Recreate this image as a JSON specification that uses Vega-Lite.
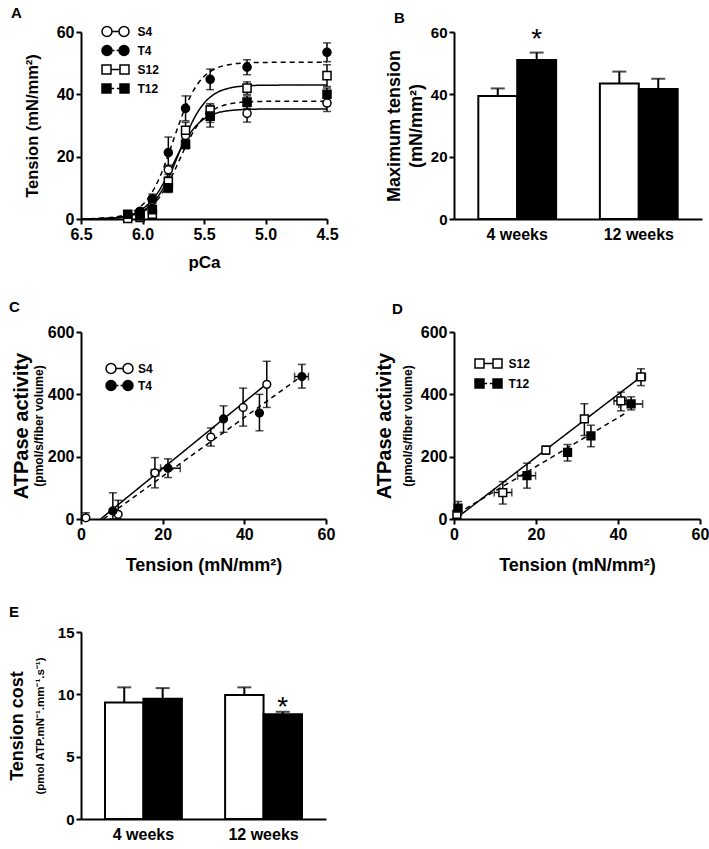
{
  "$schema": "https://vega.github.io/schema/vega-lite/v6.json",
  "padding": {"left": 8, "top": 6, "right": 0, "bottom": 0},
  "config": {
    "font": "Liberation Sans",
    "view": {"stroke": null},
    "axis": {"domainColor": "black", "domainWidth": 2, "tickColor": "black", "tickWidth": 2, "tickSize": 5, "labelFont": "Liberation Sans", "labelFontWeight": "bold", "labelFontSize": 16, "labelColor": "black", "titleFont": "Liberation Sans", "titleFontWeight": "bold", "titleFontSize": 18, "titleColor": "black", "grid": false, "labelPadding": 2, "labelFlush": false},
    "title": {"font": "Liberation Sans", "fontSize": 15, "fontWeight": "bold", "anchor": "start", "frame": "group", "color": "black"},
    "legend": {"labelFont": "Liberation Sans", "labelFontWeight": "bold", "labelFontSize": 12, "labelColor": "black", "padding": 0}
  },
  "resolve": {"scale": {"fill": "independent", "shape": "independent", "strokeDash": "independent", "x": "independent", "y": "independent", "xOffset": "independent"}, "legend": {"fill": "independent", "shape": "independent", "strokeDash": "independent"}},
  "bounds": "flush",
  "columns": 2,
  "spacing": {"row": 113, "column": 127},
  "concat": [
    {
      "width": 246, "height": 187,
      "title": {"text": "A", "dx": -70, "offset": 3},
      "resolve": {"axis": {"x": "independent", "y": "independent"}},
      "layer": [
        {
          "data": {"values": [
            {"g":"S4","p":6.5,"t":0.04},{"g":"S4","p":6.3,"t":0.22},{"g":"S4","p":6.2,"t":0.55},{"g":"S4","p":6.1,"t":1.35},{"g":"S4","p":6.0,"t":3.21},{"g":"S4","p":5.9,"t":7.09},{"g":"S4","p":5.85,"t":10.05},{"g":"S4","p":5.8,"t":13.66},{"g":"S4","p":5.75,"t":17.65},{"g":"S4","p":5.7,"t":21.64},{"g":"S4","p":5.65,"t":25.25},{"g":"S4","p":5.6,"t":28.2},{"g":"S4","p":5.55,"t":30.47},{"g":"S4","p":5.5,"t":32.09},{"g":"S4","p":5.4,"t":33.95},{"g":"S4","p":5.3,"t":34.75},{"g":"S4","p":5.2,"t":35.08},{"g":"S4","p":5.0,"t":35.28},{"g":"S4","p":4.5,"t":35.3},
            {"g":"T4","p":6.5,"t":0.05},{"g":"T4","p":6.3,"t":0.32},{"g":"T4","p":6.2,"t":0.78},{"g":"T4","p":6.1,"t":1.93},{"g":"T4","p":6.0,"t":4.57},{"g":"T4","p":5.9,"t":10.1},{"g":"T4","p":5.85,"t":14.3},{"g":"T4","p":5.8,"t":19.5},{"g":"T4","p":5.75,"t":25.15},{"g":"T4","p":5.7,"t":30.8},{"g":"T4","p":5.65,"t":36.0},{"g":"T4","p":5.6,"t":40.2},{"g":"T4","p":5.55,"t":43.4},{"g":"T4","p":5.5,"t":45.7},{"g":"T4","p":5.4,"t":48.4},{"g":"T4","p":5.3,"t":49.5},{"g":"T4","p":5.2,"t":50.0},{"g":"T4","p":5.0,"t":50.25},{"g":"T4","p":4.5,"t":50.3},
            {"g":"S12","p":6.5,"t":0.03},{"g":"S12","p":6.3,"t":0.17},{"g":"S12","p":6.2,"t":0.43},{"g":"S12","p":6.1,"t":1.05},{"g":"S12","p":6.0,"t":2.55},{"g":"S12","p":5.9,"t":5.88},{"g":"S12","p":5.85,"t":8.63},{"g":"S12","p":5.8,"t":12.24},{"g":"S12","p":5.75,"t":16.64},{"g":"S12","p":5.7,"t":21.5},{"g":"S12","p":5.65,"t":26.36},{"g":"S12","p":5.6,"t":30.76},{"g":"S12","p":5.55,"t":34.37},{"g":"S12","p":5.5,"t":37.12},{"g":"S12","p":5.4,"t":40.45},{"g":"S12","p":5.3,"t":41.95},{"g":"S12","p":5.2,"t":42.57},{"g":"S12","p":5.0,"t":42.93},{"g":"S12","p":4.5,"t":43.0},
            {"g":"T12","p":6.5,"t":0.02},{"g":"T12","p":6.3,"t":0.15},{"g":"T12","p":6.2,"t":0.37},{"g":"T12","p":6.1,"t":0.93},{"g":"T12","p":6.0,"t":2.24},{"g":"T12","p":5.9,"t":5.17},{"g":"T12","p":5.85,"t":7.59},{"g":"T12","p":5.8,"t":10.76},{"g":"T12","p":5.75,"t":14.63},{"g":"T12","p":5.7,"t":18.9},{"g":"T12","p":5.65,"t":23.17},{"g":"T12","p":5.6,"t":27.04},{"g":"T12","p":5.55,"t":30.21},{"g":"T12","p":5.5,"t":32.63},{"g":"T12","p":5.4,"t":35.56},{"g":"T12","p":5.3,"t":36.87},{"g":"T12","p":5.2,"t":37.43},{"g":"T12","p":5.0,"t":37.74},{"g":"T12","p":4.5,"t":37.8}
          ]},
          "mark": {"type": "line", "interpolate": "monotone", "strokeWidth": 1.5, "color": "black"},
          "encoding": {
            "x": {"field": "p", "type": "quantitative", "scale": {"domain": [4.5, 6.5], "reverse": true, "nice": false, "zero": false}, "axis": {"orient": "bottom", "title": "pCa", "values": [6.5, 6, 5.5, 5, 4.5], "format": ".1f", "titlePadding": 12, "titleFontSize": 17}},
            "y": {"field": "t", "type": "quantitative", "scale": {"domain": [0, 60], "nice": false}, "axis": {"orient": "left", "title": "Tension (mN/mm²)", "values": [0, 20, 40, 60], "titlePadding": 16, "titleFontSize": 16.5}},
            "strokeDash": {"field": "g", "type": "nominal", "scale": {"range": [[1, 0], [1, 0], [5, 4], [5, 4]]}, "legend": null}
          }
        },
        {
          "data": {"name": "ptsA", "values": [
            {"g":"S4","p":6.12,"t":0.5,"lo":0.2,"hi":0.8},{"g":"S4","p":6.02,"t":2.2,"lo":1.7,"hi":2.7},{"g":"S4","p":5.92,"t":6,"lo":5,"hi":7},{"g":"S4","p":5.79,"t":15.8,"lo":14.3,"hi":17.3},{"g":"S4","p":5.65,"t":26.8,"lo":24.8,"hi":28.8},{"g":"S4","p":5.45,"t":33.5,"lo":31,"hi":36},{"g":"S4","p":5.15,"t":33.9,"lo":31.1,"hi":36.7},{"g":"S4","p":4.5,"t":37.2,"lo":34.5,"hi":39.9},
            {"g":"T4","p":6.12,"t":1.2,"lo":0.7,"hi":1.7},{"g":"T4","p":6.02,"t":2.5,"lo":2,"hi":3},{"g":"T4","p":5.92,"t":6.5,"lo":5,"hi":8},{"g":"T4","p":5.79,"t":21.3,"lo":16.3,"hi":26.3},{"g":"T4","p":5.65,"t":35.5,"lo":31.5,"hi":39.5},{"g":"T4","p":5.45,"t":44.8,"lo":41.5,"hi":48.1},{"g":"T4","p":5.15,"t":48.7,"lo":46.3,"hi":51.1},{"g":"T4","p":4.5,"t":53.5,"lo":50.5,"hi":56.5},
            {"g":"S12","p":6.12,"t":0.2,"lo":0,"hi":0.5},{"g":"S12","p":6.02,"t":0.5,"lo":0.2,"hi":0.8},{"g":"S12","p":5.92,"t":1.5,"lo":1,"hi":2},{"g":"S12","p":5.79,"t":12,"lo":10.5,"hi":13.5},{"g":"S12","p":5.65,"t":28.5,"lo":26,"hi":31},{"g":"S12","p":5.45,"t":35,"lo":33,"hi":37},{"g":"S12","p":5.15,"t":42,"lo":40,"hi":44},{"g":"S12","p":4.5,"t":46,"lo":42.5,"hi":49.5},
            {"g":"T12","p":6.12,"t":1.5,"lo":1,"hi":2},{"g":"T12","p":6.02,"t":1,"lo":0.5,"hi":1.5},{"g":"T12","p":5.92,"t":3,"lo":2,"hi":4},{"g":"T12","p":5.79,"t":10,"lo":8.5,"hi":11.5},{"g":"T12","p":5.65,"t":24,"lo":22.5,"hi":25.5},{"g":"T12","p":5.45,"t":33,"lo":29.5,"hi":36.5},{"g":"T12","p":5.15,"t":37.5,"lo":35.5,"hi":39.5},{"g":"T12","p":4.5,"t":40,"lo":38,"hi":42}
          ]},
          "mark": {"type": "errorbar", "ticks": true, "size": 8, "thickness": 1.5, "color": "black"},
          "encoding": {
            "x": {"field": "p", "type": "quantitative", "axis": null},
            "y": {"field": "lo", "type": "quantitative", "axis": null},
            "y2": {"field": "hi"}
          }
        },
        {
          "data": {"name": "ptsA"},
          "mark": {"type": "point", "filled": true, "stroke": "black", "strokeWidth": 1.5, "size": 65, "opacity": 1},
          "encoding": {
            "x": {"field": "p", "type": "quantitative", "axis": null},
            "y": {"field": "t", "type": "quantitative", "axis": null},
            "shape": {"field": "g", "type": "nominal", "scale": {"range": ["square", "circle", "square", "circle"]}, "legend": null},
            "fill": {"field": "g", "type": "nominal", "scale": {"domain": ["S4", "T4", "S12", "T12"], "range": ["white", "black", "white", "black"]},
              "legend": {"orient": "none", "legendX": 27, "legendY": -8, "title": null, "symbolSize": 182, "labelOffset": 14.5, "rowPadding": 2,
                "symbolStrokeColor": "black", "symbolStrokeWidth": 1.5,
                "symbolType": {"expr": "datum.value === 'S4' ? 'M-2,0A0.74,0.74,0,1,0,-0.52,0A0.74,0.74,0,1,0,-2,0ZM0.52,0A0.74,0.74,0,1,0,2,0A0.74,0.74,0,1,0,0.52,0ZM-0.52,0L0.52,0' : datum.value === 'T4' ? 'M-2,0A0.74,0.74,0,1,0,-0.52,0A0.74,0.74,0,1,0,-2,0ZM0.52,0A0.74,0.74,0,1,0,2,0A0.74,0.74,0,1,0,0.52,0ZM-0.52,0L-0.15,0M0.15,0L0.52,0' : datum.value === 'S12' ? 'M-2,-0.67H-0.67V0.67H-2ZM0.67,-0.67H2V0.67H0.67ZM-0.67,0L0.67,0' : 'M-2,-0.67H-0.67V0.67H-2ZM0.67,-0.67H2V0.67H0.67ZM-0.67,0L-0.2,0M0.2,0L0.67,0'"},
                "encode": {"symbols": {
                  "shape": {"condition": [
                    {"test": "datum.value === 'S4'", "value": "M-2,0A0.74,0.74,0,1,0,-0.52,0A0.74,0.74,0,1,0,-2,0ZM0.52,0A0.74,0.74,0,1,0,2,0A0.74,0.74,0,1,0,0.52,0ZM-0.52,0L0.52,0"},
                    {"test": "datum.value === 'T4'", "value": "M-2,0A0.74,0.74,0,1,0,-0.52,0A0.74,0.74,0,1,0,-2,0ZM0.52,0A0.74,0.74,0,1,0,2,0A0.74,0.74,0,1,0,0.52,0ZM-0.52,0L-0.15,0M0.15,0L0.52,0"},
                    {"test": "datum.value === 'S12'", "value": "M-2,-0.67H-0.67V0.67H-2ZM0.67,-0.67H2V0.67H0.67ZM-0.67,0L0.67,0"}
                  ], "value": "M-2,-0.67H-0.67V0.67H-2ZM0.67,-0.67H2V0.67H0.67ZM-0.67,0L-0.2,0M0.2,0L0.67,0"}
                }}
              }
            }
          }
        }
      ]
    },
    {
      "width": 248, "height": 187,
      "title": {"text": "B", "dx": -60, "offset": -1},
      "resolve": {"axis": {"y": "independent"}},
      "data": {"values": [
        {"wk":"4 weeks","g":"S","v":39.5,"hi":41.9},
        {"wk":"4 weeks","g":"T","v":51,"hi":53.4,"star":57.5},
        {"wk":"12 weeks","g":"S","v":43.5,"hi":47.3},
        {"wk":"12 weeks","g":"T","v":41.7,"hi":45}
      ]},
      "encoding": {
        "x": {"field": "wk", "type": "nominal", "sort": ["4 weeks", "12 weeks"], "scale": {"paddingInner": 0.36, "paddingOuter": 0.2}, "axis": {"title": null, "ticks": false, "labelAngle": 0, "labelPadding": 7, "labelFontSize": 16}},
        "xOffset": {"field": "g", "type": "nominal", "sort": ["S", "T"], "scale": {"paddingInner": 0, "paddingOuter": 0}}
      },
      "layer": [
        {"mark": {"type": "rule", "strokeWidth": 2, "color": "black"}, "encoding": {"y": {"field": "v", "type": "quantitative", "axis": null}, "y2": {"field": "hi"}}},
        {"mark": {"type": "tick", "orient": "horizontal", "size": 14, "thickness": 2, "color": "black"}, "encoding": {"y": {"field": "hi", "type": "quantitative", "axis": null}}},
        {"mark": {"type": "bar", "stroke": "black", "strokeWidth": 2}, "encoding": {
          "y": {"field": "v", "type": "quantitative", "scale": {"domain": [0, 60], "nice": false}, "axis": {"orient": "left", "title": ["Maximum tension", "(mN/mm²)"], "values": [0, 20, 40, 60], "titlePadding": 5, "titleLineHeight": 22, "labelFontSize": 15}},
          "fill": {"field": "g", "type": "nominal", "scale": {"domain": ["S", "T"], "range": ["white", "black"]}, "legend": null}
        }},
        {"transform": [{"filter": "isValid(datum.star)"}], "mark": {"type": "text", "text": "*", "fontSize": 28, "baseline": "middle", "color": "black"}, "encoding": {"y": {"field": "star", "type": "quantitative", "axis": null}}}
      ]
    },
    {
      "width": 245, "height": 187,
      "title": {"text": "C", "dx": -72, "offset": 9},
      "resolve": {"axis": {"x": "independent", "y": "independent"}},
      "layer": [
        {
          "data": {"name": "linC", "values": [
            {"g":"S4","x":4.8,"y":0},{"g":"S4","x":45.3,"y":432},
            {"g":"T4","x":5.5,"y":0},{"g":"T4","x":54,"y":458}
          ]},
          "mark": {"type": "line", "strokeWidth": 1.5, "color": "black"},
          "encoding": {
            "x": {"field": "x", "type": "quantitative", "scale": {"domain": [0, 60], "nice": false}, "axis": {"orient": "bottom", "title": "Tension (mN/mm²)", "values": [0, 20, 40, 60], "titlePadding": 14}},
            "y": {"field": "y", "type": "quantitative", "scale": {"domain": [0, 600], "nice": false}, "axis": {"orient": "left", "title": "(pmol/s/fiber volume)", "titleFontSize": 12, "titlePadding": 2, "values": [0, 200, 400, 600]}},
            "strokeDash": {"field": "g", "type": "nominal", "scale": {"range": [[1, 0], [5, 4]]}, "legend": null}
          }
        },
        {
          "data": {"name": "linC"},
          "mark": {"type": "rule", "opacity": 0},
          "encoding": {
            "y": {"field": "y", "type": "quantitative", "axis": {"orient": "left", "title": "ATPase activity", "titleFontSize": 20, "titlePadding": 50, "labels": false, "ticks": false, "domain": false}}
          }
        },
        {
          "data": {"name": "ptsC", "values": [
            {"g":"S4","x":1.2,"y":4,"ylo":0,"yhi":20,"xlo":1.2,"xhi":1.2},
            {"g":"S4","x":9.1,"y":15,"ylo":0,"yhi":60,"xlo":9.1,"xhi":9.1},
            {"g":"S4","x":18.1,"y":148,"ylo":100,"yhi":197,"xlo":17.2,"xhi":19.1},
            {"g":"S4","x":31.8,"y":263,"ylo":234,"yhi":292,"xlo":31.8,"xhi":31.8},
            {"g":"S4","x":39.7,"y":358,"ylo":298,"yhi":420,"xlo":39.7,"xhi":39.7},
            {"g":"S4","x":45.5,"y":432,"ylo":358,"yhi":506,"xlo":45.5,"xhi":45.5},
            {"g":"T4","x":7.8,"y":26,"ylo":0,"yhi":84,"xlo":7.8,"xhi":7.8},
            {"g":"T4","x":21.3,"y":163,"ylo":133,"yhi":193,"xlo":19.5,"xhi":24.3},
            {"g":"T4","x":34.9,"y":321,"ylo":278,"yhi":363,"xlo":34.9,"xhi":34.9},
            {"g":"T4","x":43.7,"y":340,"ylo":283,"yhi":400,"xlo":43.7,"xhi":43.7},
            {"g":"T4","x":54.1,"y":457,"ylo":420,"yhi":496,"xlo":52.3,"xhi":55.7}
          ]},
          "mark": {"type": "errorbar", "ticks": true, "size": 8, "thickness": 1.5, "color": "black"},
          "encoding": {
            "x": {"field": "x", "type": "quantitative", "axis": null},
            "y": {"field": "ylo", "type": "quantitative", "axis": null},
            "y2": {"field": "yhi"}
          }
        },
        {
          "data": {"name": "ptsC"},
          "transform": [{"filter": "datum.xhi > datum.xlo"}],
          "mark": {"type": "errorbar", "ticks": true, "size": 8, "thickness": 1.5, "color": "black"},
          "encoding": {
            "y": {"field": "y", "type": "quantitative", "axis": null},
            "x": {"field": "xlo", "type": "quantitative", "axis": null},
            "x2": {"field": "xhi"}
          }
        },
        {
          "data": {"name": "ptsC"},
          "mark": {"type": "point", "filled": true, "stroke": "black", "strokeWidth": 1.5, "size": 60, "opacity": 1, "shape": "circle"},
          "encoding": {
            "x": {"field": "x", "type": "quantitative", "axis": null},
            "y": {"field": "y", "type": "quantitative", "axis": null},
            "fill": {"field": "g", "type": "nominal", "scale": {"domain": ["S4", "T4"], "range": ["white", "black"]},
              "legend": {"orient": "none", "legendX": 31, "legendY": 29, "title": null, "symbolSize": 182, "labelOffset": 11, "rowPadding": 0,
                "symbolStrokeColor": "black", "symbolStrokeWidth": 1.5,
                "symbolType": {"expr": "datum.value === 'S4' ? 'M-2,0A0.74,0.74,0,1,0,-0.52,0A0.74,0.74,0,1,0,-2,0ZM0.52,0A0.74,0.74,0,1,0,2,0A0.74,0.74,0,1,0,0.52,0ZM-0.52,0L0.52,0' : 'M-2,0A0.74,0.74,0,1,0,-0.52,0A0.74,0.74,0,1,0,-2,0ZM0.52,0A0.74,0.74,0,1,0,2,0A0.74,0.74,0,1,0,0.52,0ZM-0.52,0L-0.15,0M0.15,0L0.52,0'"},
                "encode": {"symbols": {
                  "shape": {"condition": [
                    {"test": "datum.value === 'S4'", "value": "M-2,0A0.74,0.74,0,1,0,-0.52,0A0.74,0.74,0,1,0,-2,0ZM0.52,0A0.74,0.74,0,1,0,2,0A0.74,0.74,0,1,0,0.52,0ZM-0.52,0L0.52,0"}
                  ], "value": "M-2,0A0.74,0.74,0,1,0,-0.52,0A0.74,0.74,0,1,0,-2,0ZM0.52,0A0.74,0.74,0,1,0,2,0A0.74,0.74,0,1,0,0.52,0ZM-0.52,0L-0.15,0M0.15,0L0.52,0"}
                }}
              }
            }
          }
        }
      ]
    },
    {
      "width": 246, "height": 187,
      "title": {"text": "D", "dx": -62, "offset": 7},
      "resolve": {"axis": {"x": "independent", "y": "independent"}},
      "layer": [
        {
          "data": {"name": "linD", "values": [
            {"g":"S12","x":0.5,"y":2},{"g":"S12","x":45.6,"y":456},
            {"g":"T12","x":0.9,"y":18},{"g":"T12","x":42.4,"y":344}
          ]},
          "mark": {"type": "line", "strokeWidth": 1.5, "color": "black"},
          "encoding": {
            "x": {"field": "x", "type": "quantitative", "scale": {"domain": [0, 60], "nice": false}, "axis": {"orient": "bottom", "title": "Tension (mN/mm²)", "values": [0, 20, 40, 60], "titlePadding": 14}},
            "y": {"field": "y", "type": "quantitative", "scale": {"domain": [0, 600], "nice": false}, "axis": {"orient": "left", "title": "(pmol/s/fiber volume)", "titleFontSize": 12, "titlePadding": 6, "values": [0, 200, 400, 600]}},
            "strokeDash": {"field": "g", "type": "nominal", "scale": {"range": [[1, 0], [5, 4]]}, "legend": null}
          }
        },
        {
          "data": {"name": "linD"},
          "mark": {"type": "rule", "opacity": 0},
          "encoding": {
            "y": {"field": "y", "type": "quantitative", "axis": {"orient": "left", "title": "ATPase activity", "titleFontSize": 20, "titlePadding": 60, "labels": false, "ticks": false, "domain": false}}
          }
        },
        {
          "data": {"name": "ptsD", "values": [
            {"g":"S12","x":0.7,"y":15,"ylo":2,"yhi":28,"xlo":0.7,"xhi":0.7},
            {"g":"S12","x":11.9,"y":85,"ylo":48,"yhi":120,"xlo":9.8,"xhi":14.1},
            {"g":"S12","x":22.4,"y":221,"ylo":208,"yhi":234,"xlo":22.4,"xhi":22.4},
            {"g":"S12","x":31.8,"y":321,"ylo":268,"yhi":370,"xlo":31.8,"xhi":31.8},
            {"g":"S12","x":40.7,"y":379,"ylo":347,"yhi":407,"xlo":39,"xhi":42},
            {"g":"S12","x":45.6,"y":456,"ylo":428,"yhi":482,"xlo":44.5,"xhi":46.7},
            {"g":"T12","x":1.0,"y":35,"ylo":12,"yhi":56,"xlo":1.0,"xhi":1.0},
            {"g":"T12","x":17.8,"y":139,"ylo":99,"yhi":179,"xlo":15.5,"xhi":19.9},
            {"g":"T12","x":27.7,"y":214,"ylo":186,"yhi":239,"xlo":27.7,"xhi":27.7},
            {"g":"T12","x":33.4,"y":267,"ylo":232,"yhi":301,"xlo":33.4,"xhi":33.4},
            {"g":"T12","x":43.2,"y":369,"ylo":350,"yhi":392,"xlo":40.2,"xhi":46}
          ]},
          "mark": {"type": "errorbar", "ticks": true, "size": 8, "thickness": 1.5, "color": "black"},
          "encoding": {
            "x": {"field": "x", "type": "quantitative", "axis": null},
            "y": {"field": "ylo", "type": "quantitative", "axis": null},
            "y2": {"field": "yhi"}
          }
        },
        {
          "data": {"name": "ptsD"},
          "transform": [{"filter": "datum.xhi > datum.xlo"}],
          "mark": {"type": "errorbar", "ticks": true, "size": 8, "thickness": 1.5, "color": "black"},
          "encoding": {
            "y": {"field": "y", "type": "quantitative", "axis": null},
            "x": {"field": "xlo", "type": "quantitative", "axis": null},
            "x2": {"field": "xhi"}
          }
        },
        {
          "data": {"name": "ptsD"},
          "mark": {"type": "point", "filled": true, "stroke": "black", "strokeWidth": 1.5, "size": 60, "opacity": 1, "shape": "square"},
          "encoding": {
            "x": {"field": "x", "type": "quantitative", "axis": null},
            "y": {"field": "y", "type": "quantitative", "axis": null},
            "fill": {"field": "g", "type": "nominal", "scale": {"domain": ["S12", "T12"], "range": ["white", "black"]},
              "legend": {"orient": "none", "legendX": 27, "legendY": 24, "title": null, "symbolSize": 182, "labelOffset": 12.5, "rowPadding": 3,
                "symbolStrokeColor": "black", "symbolStrokeWidth": 1.5,
                "symbolType": {"expr": "datum.value === 'S12' ? 'M-2,-0.67H-0.67V0.67H-2ZM0.67,-0.67H2V0.67H0.67ZM-0.67,0L0.67,0' : 'M-2,-0.67H-0.67V0.67H-2ZM0.67,-0.67H2V0.67H0.67ZM-0.67,0L-0.2,0M0.2,0L0.67,0'"},
                "encode": {"symbols": {
                  "shape": {"condition": [
                    {"test": "datum.value === 'S12'", "value": "M-2,-0.67H-0.67V0.67H-2ZM0.67,-0.67H2V0.67H0.67ZM-0.67,0L0.67,0"}
                  ], "value": "M-2,-0.67H-0.67V0.67H-2ZM0.67,-0.67H2V0.67H0.67ZM-0.67,0L-0.2,0M0.2,0L0.67,0"}
                }}
              }
            }
          }
        }
      ]
    },
    {
      "width": 245, "height": 187,
      "title": {"text": "E", "dx": -72, "offset": 5},
      "resolve": {"axis": {"y": "independent"}},
      "data": {"values": [
        {"wk":"4 weeks","g":"S","v":9.35,"hi":10.56},
        {"wk":"4 weeks","g":"T","v":9.65,"hi":10.5},
        {"wk":"12 weeks","g":"S","v":9.95,"hi":10.56},
        {"wk":"12 weeks","g":"T","v":8.4,"hi":8.6,"star":8.9}
      ]},
      "encoding": {
        "x": {"field": "wk", "type": "nominal", "sort": ["4 weeks", "12 weeks"], "scale": {"paddingInner": 0.36, "paddingOuter": 0.2}, "axis": {"title": null, "ticks": false, "labelAngle": 0, "labelPadding": 7, "labelFontSize": 16}},
        "xOffset": {"field": "g", "type": "nominal", "sort": ["S", "T"], "scale": {"paddingInner": 0, "paddingOuter": 0}}
      },
      "layer": [
        {"mark": {"type": "rule", "strokeWidth": 2, "color": "black"}, "encoding": {"y": {"field": "v", "type": "quantitative", "axis": null}, "y2": {"field": "hi"}}},
        {"mark": {"type": "tick", "orient": "horizontal", "size": 14, "thickness": 2, "color": "black"}, "encoding": {"y": {"field": "hi", "type": "quantitative", "axis": null}}},
        {"mark": {"type": "bar", "stroke": "black", "strokeWidth": 2}, "encoding": {
          "y": {"field": "v", "type": "quantitative", "scale": {"domain": [0, 15], "nice": false}, "axis": {"orient": "left", "title": "(pmol ATP.mN⁻¹.mm⁻¹.s⁻¹)", "titleFontSize": 11.5, "titlePadding": 12, "values": [0, 5, 10, 15], "labelFontSize": 15}},
          "fill": {"field": "g", "type": "nominal", "scale": {"domain": ["S", "T"], "range": ["white", "black"]}, "legend": null}
        }},
        {"mark": {"type": "rule", "opacity": 0}, "encoding": {"y": {"field": "v", "type": "quantitative", "axis": {"orient": "left", "title": "Tension cost", "titleFontSize": 18, "titlePadding": 55, "labels": false, "ticks": false, "domain": false}}}},
        {"transform": [{"filter": "isValid(datum.star)"}], "mark": {"type": "text", "text": "*", "fontSize": 28, "baseline": "middle", "color": "black"}, "encoding": {"y": {"field": "star", "type": "quantitative", "axis": null}}}
      ]
    }
  ]
}
